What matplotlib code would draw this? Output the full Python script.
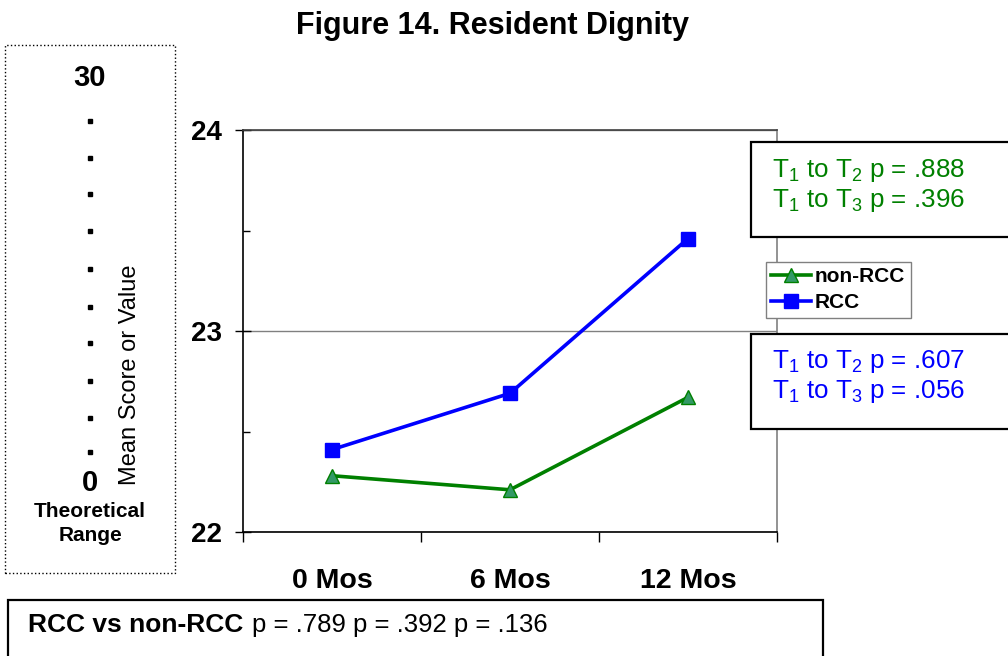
import matplotlib
matplotlib.use("Agg")
import matplotlib.pyplot as plt
from matplotlib.patches import Rectangle
from matplotlib.lines import Line2D

plt.rcParams['font.family'] = ['Liberation Sans', 'DejaVu Sans']
plt.rcParams['mathtext.fontset'] = 'custom'
plt.rcParams['mathtext.rm'] = 'Liberation Sans'
plt.rcParams['mathtext.it'] = 'Liberation Sans'
plt.rcParams['mathtext.bf'] = 'Liberation Sans:bold'

# data
months = ['0 Mos', '6 Mos', '12 Mos']
non_rcc = [22.28, 22.21, 22.67]
rcc = [22.41, 22.69, 23.46]
green_p = [r'T$_1$ to T$_2$ p = .888', r'T$_1$ to T$_3$ p = .396']
blue_p = [r'T$_1$ to T$_2$ p = .607', r'T$_1$ to T$_3$ p = .056']
between_p = ['.789', '.392', '.136']

W, H = 1008, 656


def fx(px):
    return px / W


def fy(py):
    return 1 - py / H


fig = plt.figure(figsize=(W / 100, H / 100), dpi=100)
ax = fig.add_axes([fx(243), fy(532), (777 - 243) / W, (532 - 130) / H])

x = range(len(months))
ax.plot(x, non_rcc, color='#008000', lw=2.6, marker='^', markersize=10.5,
        markerfacecolor='#339966', markeredgecolor='#008000', label='non-RCC', zorder=3)
ax.plot(x, rcc, color='#0000FF', lw=2.6, marker='s', markersize=9.5,
        markerfacecolor='#0000FF', markeredgecolor='#0000FF', label='RCC', zorder=3)

ax.set_xlim(-0.5, len(months) - 0.5)
ax.set_ylim(22, 24)
ax.set_yticks([22, 23, 24])
ax.set_yticklabels(['22', '23', '24'], fontsize=20, fontweight='bold')
ax.set_yticks([22.5, 23.5], minor=True)
ax.tick_params(axis='y', which='major', direction='inout', length=12, width=1, pad=9)
ax.tick_params(axis='y', which='minor', direction='in', length=5, width=1)
ax.yaxis.grid(True, which='major', color='#808080', lw=1)

ax.set_xticks([i - 0.5 for i in range(len(months) + 1)])
ax.set_xticklabels([])
ax.set_xticks(list(x), minor=True)
ax.set_xticklabels(months, minor=True, fontsize=20.5, fontweight='bold')
ax.tick_params(axis='x', which='major', direction='out', length=7, width=1)
ax.tick_params(axis='x', which='minor', length=0, pad=26)
ax.spines['left'].set_color('black')
ax.spines['bottom'].set_color('black')
ax.spines['top'].set_color('#404040')
ax.spines['right'].set_color('#808080')
for s in ax.spines.values():
    s.set_linewidth(1.2)

fig.text(fx(492), fy(34), 'Figure 14. Resident Dignity', ha='center', va='baseline',
         fontsize=22, fontweight='bold')

# theoretical range box
fig.add_artist(Rectangle((fx(5), fy(573)), (175 - 5) / W, (573 - 45) / H,
                         transform=fig.transFigure, fill=False, ec='black',
                         lw=1, ls=':'))
fig.text(fx(90), fy(86), '30', ha='center', va='baseline', fontsize=21, fontweight='bold')
fig.text(fx(90), fy(491), '0', ha='center', va='baseline', fontsize=21, fontweight='bold')
for dy in [121, 158, 194, 231, 269, 307, 343, 381, 418, 452]:
    fig.add_artist(Line2D([fx(90)], [fy(dy)], transform=fig.transFigure, marker='s',
                          markersize=3.5, color='black', ls='none'))
fig.text(fx(90), fy(517), 'Theoretical', ha='center', va='baseline', fontsize=15,
         fontweight='bold')
fig.text(fx(90), fy(541), 'Range', ha='center', va='baseline', fontsize=15,
         fontweight='bold')
fig.text(fx(130), fy(375), 'Mean Score or Value', ha='center', va='center',
         rotation=90, fontsize=17)

# p-value boxes
for top, bottom, lines, col, bases in [(142, 237, green_p, '#008000', (177, 207)),
                                       (334, 429, blue_p, '#0000FF', (368, 398))]:
    fig.add_artist(Rectangle((fx(751), fy(bottom)), (1020 - 751) / W, (bottom - top) / H,
                             transform=fig.transFigure, fc='white', ec='black', lw=1.6,
                             zorder=5))
    for t, b in zip(lines, bases):
        fig.text(fx(772), fy(b), t, color=col, ha='left', va='baseline', fontsize=18.7,
                 zorder=6)

leg = fig.legend(loc='upper left', bbox_to_anchor=(fx(766), fy(262)),
                 prop={'size': 15, 'weight': 'bold'}, frameon=True, fancybox=False,
                 edgecolor='#808080', framealpha=1, borderpad=0.25, labelspacing=0.35,
                 handlelength=1.9, handletextpad=0.2, borderaxespad=0)
leg.get_frame().set_linewidth(1)
leg.set_zorder(6)

# bottom box
fig.add_artist(Rectangle((fx(8), fy(670)), (823 - 8) / W, (670 - 600) / H,
                         transform=fig.transFigure, fill=False, ec='black', lw=1.6))
t1 = fig.text(fx(28), fy(632), 'RCC vs non-RCC', ha='left', va='baseline', fontsize=19,
              fontweight='bold')
fig.canvas.draw()
bb = t1.get_window_extent(fig.canvas.get_renderer())
rest = ' '.join('p = ' + p for p in between_p)
fig.text(bb.x1 / W + fx(9), fy(632), rest, ha='left', va='baseline', fontsize=18.5)

fig.savefig('out.png', dpi=100)
